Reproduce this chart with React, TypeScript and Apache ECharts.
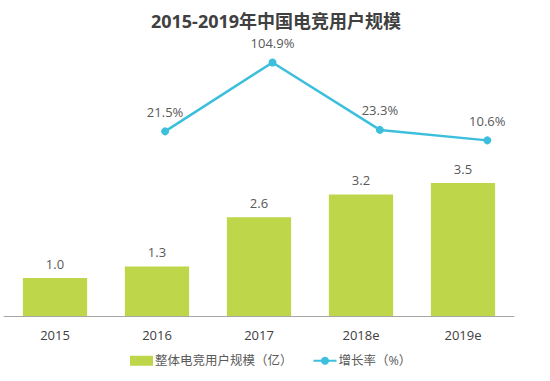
import React, { useEffect, useRef } from "react";
import * as echarts from "echarts";

const title = "2015-2019年中国电竞用户规模";
const categories = ["2015", "2016", "2017", "2018e", "2019e"];
const users = [1.0, 1.3, 2.6, 3.2, 3.5];
const growth: (number | null)[] = [null, 21.5, 104.9, 23.3, 10.6];
const barName = "整体电竞用户规模（亿）";
const lineName = "增长率（%）";

export default function App() {
  const ref = useRef<HTMLDivElement>(null);
  useEffect(() => {
    if (!ref.current) return;
    const chart = echarts.init(ref.current, undefined, { renderer: "svg" });
    const font = "'Open Sans', 'Noto Sans CJK SC', sans-serif";
    chart.setOption({
      animation: false,
      textStyle: { fontFamily: font },
      title: {
        text: title,
        left: 271,
        textAlign: "center",
        top: 5,
        textStyle: { fontSize: 18, fontWeight: "bold", color: "#404040", fontFamily: font, lineHeight: 22 },
      },
      legend: {
        bottom: 9,
        left: 125,
        itemGap: 20,
        itemWidth: 23,
        itemHeight: 10,
        textStyle: { fontSize: 12.5, color: "#595959", fontFamily: font, padding: [0, 0, 0, -3] },
        data: [
          { name: barName, icon: "rect" },
          { name: lineName },
        ],
      },
      grid: [
        { left: 4, right: 36, top: 50, bottom: 65, containLabel: false },
        { left: 4, right: 9, top: 50, bottom: 65, containLabel: false },
      ],
      xAxis: [
        {
          type: "category",
          gridIndex: 0,
          data: categories,
          axisLine: { lineStyle: { color: "#a6a6a6", width: 1 } },
          axisTick: { show: false },
          axisLabel: { fontSize: 13, color: "#404040", margin: 12 },
        },
        {
          type: "category",
          gridIndex: 1,
          data: categories,
          show: false,
        },
      ],
      yAxis: [
        { type: "value", gridIndex: 0, min: 0, max: 7, show: false, splitLine: { show: false } },
        { type: "value", gridIndex: 1, min: -202, max: 120, show: false, splitLine: { show: false } },
      ],
      series: [
        {
          name: barName,
          type: "bar",
          xAxisIndex: 0,
          yAxisIndex: 0,
          data: users,
          barWidth: "63%",
          itemStyle: { color: "#bdd64a" },
          label: {
            show: true,
            position: "top",
            distance: 8,
            fontSize: 13,
            color: "#595959",
            formatter: (p: any) => p.value.toFixed(1),
          },
        },
        {
          name: lineName,
          type: "line",
          xAxisIndex: 1,
          yAxisIndex: 1,
          data: growth,
          symbol: "circle",
          symbolSize: 8,
          lineStyle: { color: "#3cbfdc", width: 2.5 },
          itemStyle: { color: "#3cbfdc" },
          label: {
            show: true,
            position: "top",
            distance: 9,
            fontSize: 13,
            color: "#595959",
            formatter: (p: any) => p.value.toFixed(1) + "%",
          },
        },
      ],
    });
    return () => chart.dispose();
  }, []);
  return <div ref={ref} style={{ width: 550, height: 381, position: "absolute", left: 0, top: 0, background: "#fff" }} />;
}
